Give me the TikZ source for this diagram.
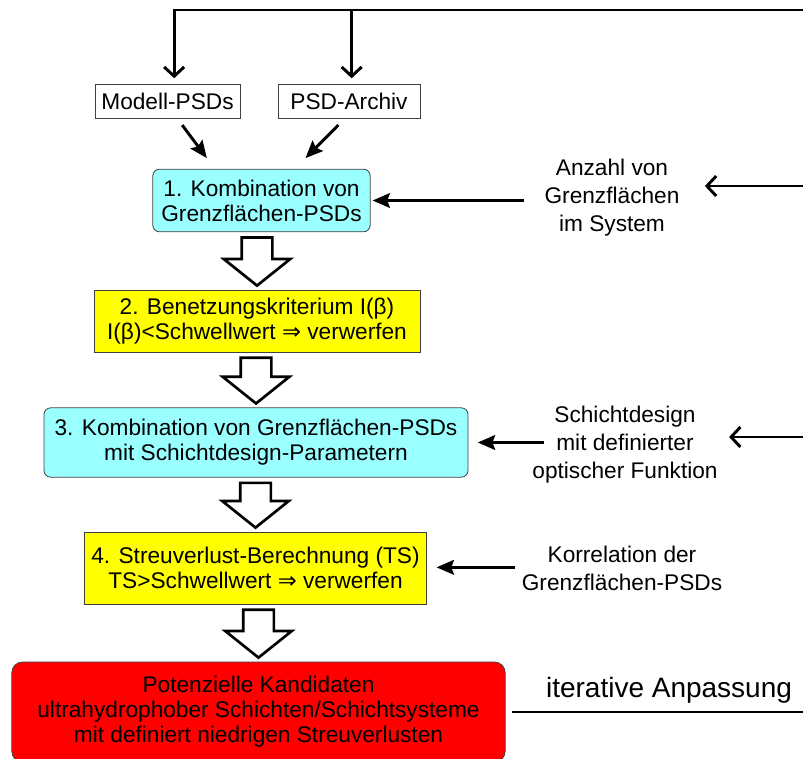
\documentclass[tikz,border=0pt]{standalone}
\usepackage{fontspec}
\setmainfont{Liberation Sans}
\newfontfamily\arrowfont{DejaVu Sans}
\usetikzlibrary{arrows.meta,calc,positioning}

\definecolor{boxcyan}{HTML}{99FFFF}
\definecolor{boxyellow}{HTML}{FFFF00}
\definecolor{boxred}{HTML}{FF0000}

\newcommand\implies{{\arrowfont\fontsize{17}{17}\selectfont ⇒}}

% hollow block arrow from one box down to the next
\newcommand\hollowarrow[2]{%
  \draw[hollow] let \p1=(#1.south), \p2=(#2.north) in
    (\x2-11.5pt,\y1-4pt) -- (\x2+11.5pt,\y1-4pt) -- (\x2+11.5pt,\y2+23pt)
    -- (\x2+25pt,\y2+23pt) -- (\x2,\y2+3pt) -- (\x2-25pt,\y2+23pt)
    -- (\x2-11.5pt,\y2+23pt) -- cycle;}

\begin{document}
\begin{tikzpicture}[%
    x=0.75pt, y=-0.75pt,
    >={Stealth[length=13pt,width=11pt,inset=2pt]},
    barb/.style={-{Straight Barb[length=7pt,width=15pt]}},
    line width=2.2pt,
    every edge/.append style={line width=2.2pt},
    box/.style={draw=black!75, line width=0.6pt, align=center, inner sep=0pt,
      font=\fontsize{17}{18.75}\selectfont},
    smallbox/.style={box, minimum height=25.5pt},
    cyanbox/.style={box, fill=boxcyan, rounded corners=5pt},
    yellowbox/.style={box, fill=boxyellow},
    redbox/.style={box, fill=boxred, rounded corners=8pt},
    label/.style={align=center, inner sep=0pt, font=\fontsize{17}{21}\selectfont},
    hollow/.style={draw, fill=white, line width=2pt, miter limit=10}
  ]
    \useasboundingbox (0,0) rectangle (803,758);

    % inputs
    \node[smallbox, minimum width=108.75pt] (M) at (167.5,101) {Modell-PSDs};
    \node[smallbox, minimum width=106.5pt]  (P) at (349,101)   {PSD-Archiv};

    % process chain
    \node[cyanbox, minimum width=163pt, minimum height=47pt] (K1) at (261.5,200.5)
      {1. Kombination von\\Grenzflächen-PSDs};
    \node[yellowbox, minimum width=244.5pt, minimum height=46.5pt] (B2) at (257,321)
      {2. Benetzungskriterium I(β)\\I(β)<Schwellwert \implies{} verwerfen};
    \node[cyanbox, minimum width=318pt, minimum height=52pt] (K3) at (256,442.5)
      {3. Kombination von Grenzflächen-PSDs\\mit Schichtdesign-Parametern};
    \node[yellowbox, minimum width=257pt, minimum height=54pt] (S4) at (255.5,568)
      {4. Streuverlust-Berechnung (TS)\\TS>Schwellwert \implies{} verwerfen};
    \node[redbox, minimum width=370pt, minimum height=75pt] (E) at (258.5,712)
      {Potenzielle Kandidaten\\ultrahydrophober Schichten/Schichtsysteme\\mit definiert niedrigen Streuverlusten};

    % side inputs
    \node[label] (L1) at (612,198) {Anzahl von\\Grenzflächen\\im System};
    \node[label] (L3) at (625,445) {Schichtdesign\\mit definierter\\optischer Funktion};
    \node[label] (L4) at (622,568) {Korrelation der\\Grenzflächen-PSDs};
    \node[font=\fontsize{21}{23}\selectfont, inner sep=0pt] (I) at (669,690) {iterative Anpassung};

    % feedback loop (its right side lies beyond the border)
    \coordinate (RB) at (808,712);
    \coordinate (RT) at (808,10);
    \coordinate (r1) at (808,186);
    \coordinate (r3) at (808,437);

    \draw[shorten <=5pt] (E.east) -- (RB) -- (RT);
    \draw[barb, shorten >=4pt] (RT) -| ([xshift=5pt]M.north);
    \draw[barb, shorten >=4pt] ([xshift=2pt]P.north |- RT) -- ([xshift=2pt]P.north);
    \draw[barb] (r1) -- ($(L1.east |- r1)+(24,0)$);
    \draw[barb] (r3) -- ($(L3.east |- r3)+(10,0)$);

    \path[->] ([xshift=11pt,yshift=-5pt]M.south) edge ([xshift=-41pt,yshift=8pt]K1.north)
              ([xshift=-8pt,yshift=-5pt]P.south) edge ([xshift=33pt,yshift=8pt]K1.north)
              ([xshift=-14pt]L1.west |- K1.east) edge [shorten >=1.5pt] (K1.east)
              ([xshift=10pt]L3.west |- K3.east) edge [shorten >=7pt] (K3.east)
              ([xshift=-4pt,yshift=0.5pt]L4.west |- S4.east) edge [shorten >=7pt] ([yshift=0.5pt]S4.east);

    \hollowarrow{K1}{B2}
    \hollowarrow{B2}{K3}
    \hollowarrow{K3}{S4}
    \hollowarrow{S4}{E}
\end{tikzpicture}
\end{document}
